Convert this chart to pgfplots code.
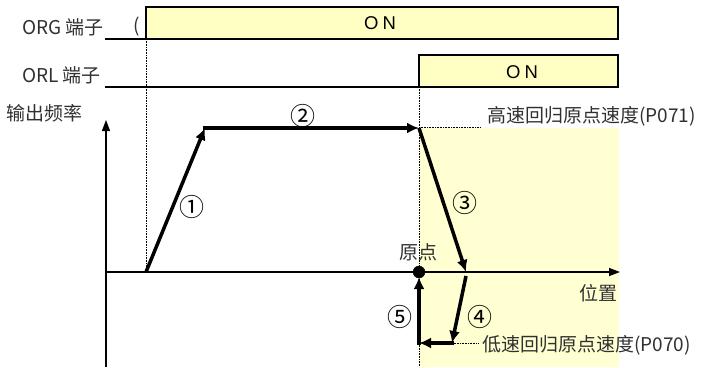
\documentclass[border=0pt]{standalone}
\usepackage{pgfplots}
\pgfplotsset{compat=1.18}
\usepackage{fontspec}
\setmainfont{Noto Sans CJK SC}
\newfontfamily\onfont{Liberation Sans}
\usetikzlibrary{arrows.meta}
\definecolor{boxy}{HTML}{FFFFC4}
\definecolor{regy}{HTML}{FFFFD2}
\definecolor{txt}{HTML}{303030}
\tikzset{lbl/.style={font=\fontsize{19}{20}\selectfont, text=txt, inner sep=0pt},
         num/.style={font=\fontsize{25}{26}\selectfont, text=black, inner sep=0pt}}
\begin{document}
\begin{tikzpicture}
\begin{axis}[
  scale only axis, width=717pt, height=367pt,
  xmin=0, xmax=717, ymin=0, ymax=367, y dir=reverse,
  hide axis, clip=false,
]
% shaded region
\addplot[fill=regy, draw=none] coordinates {(419,128) (619,128) (619,367) (419,367)} -- cycle;
% signal boxes
\addplot[fill=boxy, draw=black, line width=1.3pt] coordinates {(146,39) (146,7) (618,7) (618,39)} -- cycle;
\addplot[black, line width=1.3pt] coordinates {(105,39) (146,39)};
\addplot[fill=boxy, draw=black, line width=1.3pt] coordinates {(419,87) (419,55) (618,55) (618,87)} -- cycle;
\addplot[black, line width=1.3pt] coordinates {(105,87) (419,87)};
% dotted guides
\addplot[black, densely dotted, line width=0.6pt] coordinates {(146,39) (146,272)};
\addplot[black, densely dotted, line width=0.6pt] coordinates {(419,87) (419,367)};
\addplot[black, densely dotted, line width=0.6pt] coordinates {(419,127) (480,127)};
\addplot[black, densely dotted, line width=0.6pt] coordinates {(452,343) (478,343)};
% axes
\addplot[black, line width=1.3pt, -{Stealth[length=11pt,width=8pt,inset=0pt]}] coordinates {(106,367) (106,120)};
\addplot[black, line width=1.3pt, -{Stealth[length=11pt,width=8pt,inset=0pt]}] coordinates {(106,272) (620,272)};
% profile
\addplot[black, line width=3.5pt, -{Latex[length=12pt,width=11pt]}] coordinates {(146,272) (205,128)};
\addplot[black, line width=3.5pt, -{Latex[length=12pt,width=11pt]}] coordinates {(203,128) (419,128)};
\addplot[black, line width=3.5pt, -{Latex[length=12pt,width=11pt]}] coordinates {(419,128) (466,272)};
\addplot[black, line width=3.5pt, -{Latex[length=12pt,width=11pt]}] coordinates {(466,276) (452,343)};
\addplot[black, line width=3.5pt, -{Latex[length=12pt,width=11pt]}] coordinates {(454,343) (419,343)};
\addplot[black, line width=3.5pt, -{Latex[length=12pt,width=11pt]}] coordinates {(419,345) (419,277)};
\addplot[only marks, mark=*, mark size=6pt, black] coordinates {(419,272)};
% texts
\node[lbl, anchor=west] at (axis cs:22,27) {ORG 端子};
\node[lbl, anchor=west] at (axis cs:22,75) {ORL 端子};
\node[lbl] at (axis cs:137,27) {(};
\node[inner sep=0pt, font=\onfont\fontsize{18.5}{19}\selectfont, text=black] at (axis cs:380,23) {O\kern4pt N};
\node[inner sep=0pt, font=\onfont\fontsize{18.5}{19}\selectfont, text=black] at (axis cs:522,72) {O\kern4pt N};
\node[lbl, anchor=west] at (axis cs:6,113) {输出频率};
\node[lbl, anchor=west] at (axis cs:487,116) {高速回归原点速度(P071)};
\node[lbl, anchor=west] at (axis cs:482,345) {低速回归原点速度(P070)};
\node[lbl, anchor=east] at (axis cs:618,293) {位置};
\node[lbl] at (axis cs:418,252) {原点};
\node[num] at (axis cs:192,207) {①};
\node[num] at (axis cs:303,116) {②};
\node[num] at (axis cs:465,203) {③};
\node[num] at (axis cs:480,317) {④};
\node[num] at (axis cs:400,317) {⑤};
\end{axis}
\pgfresetboundingbox
\path (current axis.south west) rectangle (current axis.north east);
\end{tikzpicture}
\end{document}
